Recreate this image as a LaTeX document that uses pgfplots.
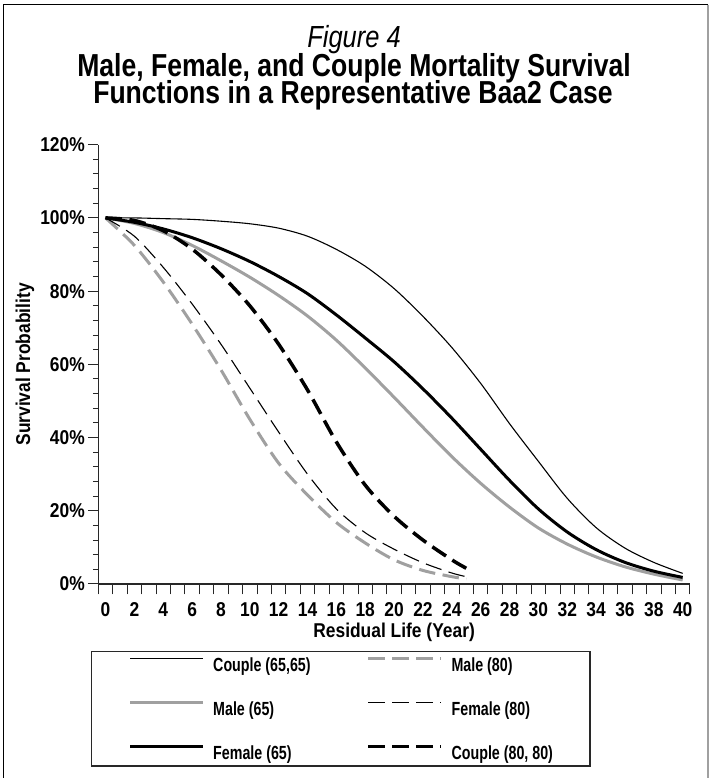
\documentclass[border=0pt]{standalone}
\usepackage{fontspec}
\setmainfont{Liberation Sans}
\newfontfamily\tfont{Liberation Sans}[FakeStretch=0.835]
\newfontfamily\afont{Liberation Sans}[FakeStretch=0.87]
\newfontfamily\lfont{Liberation Sans}[FakeStretch=0.75]
\usepackage{pgfplots}
\pgfplotsset{compat=1.18}
\definecolor{lg}{RGB}{160,160,160}
\definecolor{ax}{RGB}{40,40,40}
\newcommand{\afnt}{\afont\bfseries\fontsize{20}{22}\selectfont}
\begin{document}
\begin{tikzpicture}
\useasboundingbox (0pt,0pt) rectangle (709pt,778pt);
\draw[line width=1.4pt, black] (3.3pt,0pt) -- (3.3pt,773.3pt) -- (708pt,773.3pt);
\draw[line width=1.2pt, lg] (708pt,773.3pt) -- (708pt,0pt);
\node[anchor=base, inner sep=0pt, font=\tfont\itshape\fontsize{30.5}{33}\selectfont] at (354pt,730pt) {Figure 4};
\node[anchor=base, inner sep=0pt, font=\tfont\bfseries\fontsize{31.8}{34}\selectfont] at (354pt,701pt) {Male, Female, and Couple Mortality Survival};
\node[anchor=base, inner sep=0pt, font=\tfont\bfseries\fontsize{31.8}{34}\selectfont] at (353pt,674pt) {Functions in a Representative Baa2 Case};

\begin{axis}[
 at={(98.3pt,194pt)}, anchor=south west,
 scale only axis, width=591.6pt, height=439.3pt,
 xmin=-0.5, xmax=40.5, ymin=0, ymax=120,
 axis x line*=bottom, axis y line*=left,
 axis line style={line width=1.3pt, ax},
 tick align=outside, major tick length=10.5pt, minor tick length=5.5pt,
 every tick/.append style={line width=1pt, ax},
 xtick={-0.5,0.5,...,40.5}, xticklabels={},
 ytick={0,20,...,120}, minor y tick num=4,
 /pgf/number format/assume math mode=true,
 yticklabel={\pgfmathprintnumber{\tick}\%},
 yticklabel style={font=\afnt, anchor=east, inner sep=0pt, xshift=-2.8pt},
 ylabel={Survival Probability},
 ylabel style={at={(axis description cs:-0.1239,0.5)}, anchor=center, font=\afnt},
 xlabel={Residual Life (Year)},
 xlabel style={at={(axis description cs:0.5,-0.109)}, anchor=center, font=\afnt},
 legend columns=2, legend cell align=left,
 legend image code/.code={\draw[#1] (0pt,6.8pt) -- (73pt,6.8pt);},
 legend style={at={(axis description cs:-0.0123,-0.1525)}, anchor=north west,
   draw=ax, line width=1.4pt, inner xsep=37pt, inner ysep=5pt, row sep=28.2pt,
   font=\lfont\bfseries\fontsize{19}{21}\selectfont, nodes={inner sep=0pt},
   /tikz/every odd column/.append style={column sep=8.5pt},
   /tikz/every even column/.append style={column sep=56pt}},
]
% Couple (65,65)
\addplot[black, line width=1.1pt, smooth] coordinates {
(0,100) (2,100) (4,99.8) (6,99.6) (8,99.1) (10,98.4) (12,97.2) (14,95) (16,91.4) (18,86.8) (20,80.7)
(22,73.1) (24,64.6) (26,54.8) (28,43.8) (30,33.5) (32,23.4) (34,15.4) (36,9.8) (38,5.9) (40,2.9)};
\addlegendentry{Couple (65,65)}
% Male (80)
\addplot[lg, line width=3pt, smooth, dash pattern=on 16.5pt off 7.5pt] coordinates {
(0,100) (2,92.5) (4,82.5) (6,71) (8,58.5) (10,45) (12,33) (14,24.3) (16,16.8) (18,11.2) (20,6.6)
(22,3.7) (24,2.0) (25,1.4)};
\addlegendentry{Male (80)}
% Male (65)
\addplot[lg, line width=3pt, smooth] coordinates {
(0,100) (2,98.5) (4,96) (6,92.5) (8,88.3) (10,83.8) (12,78.8) (14,73.2) (16,66.6) (18,59) (20,51)
(22,42.8) (24,34.8) (26,27.5) (28,21) (30,15.3) (32,10.9) (34,7.4) (36,4.7) (38,2.7) (40,1.1)};
\addlegendentry{Male (65)}
% Female (80)
\addplot[black, line width=1.1pt, smooth, dash pattern=on 16.5pt off 7.5pt] coordinates {
(0,100) (2,95) (4,86.5) (6,76.5) (8,65.5) (10,53.5) (12,41.5) (14,30) (16,20.5) (18,14) (20,9.5)
(22,5.8) (24,3.0) (25,2.0)};
\addlegendentry{Female (80)}
% Female (65)
\addplot[black, line width=3pt, smooth] coordinates {
(0,100) (2,98.8) (4,97) (6,94.6) (8,91.6) (10,88.1) (12,84) (14,79.3) (16,73.5) (18,67.2) (20,60.7)
(22,53.3) (24,45.3) (26,36.8) (28,28.3) (30,20.5) (32,14.2) (34,9.4) (36,5.9) (38,3.5) (40,1.8)};
\addlegendentry{Female (65)}
% Couple (80,80)
\addplot[black, line width=3.5pt, smooth, dash pattern=on 16.5pt off 7.5pt] coordinates {
(0,100) (2,99.3) (4,96.5) (6,91.5) (8,84.5) (10,76) (12,65.5) (14,53) (16,38.8) (18,27) (20,18.5)
(22,12) (24,6.6) (25,4.3)};
\addlegendentry{Couple (80, 80)}
\end{axis}

\begin{axis}[
 at={(98.3pt,194pt)}, anchor=south west,
 scale only axis, width=591.6pt, height=439.3pt,
 xmin=-0.5, xmax=40.5, ymin=0, ymax=120,
 axis x line*=bottom, hide y axis,
 x axis line style={draw=none},
 xtick={0,2,...,40}, major tick length=0pt, xtick style={draw=none},
 /pgf/number format/assume math mode=true,
 xticklabel style={font=\afnt, anchor=center, inner sep=0pt, yshift=-25.5pt},
]
\end{axis}
\end{tikzpicture}
\end{document}
